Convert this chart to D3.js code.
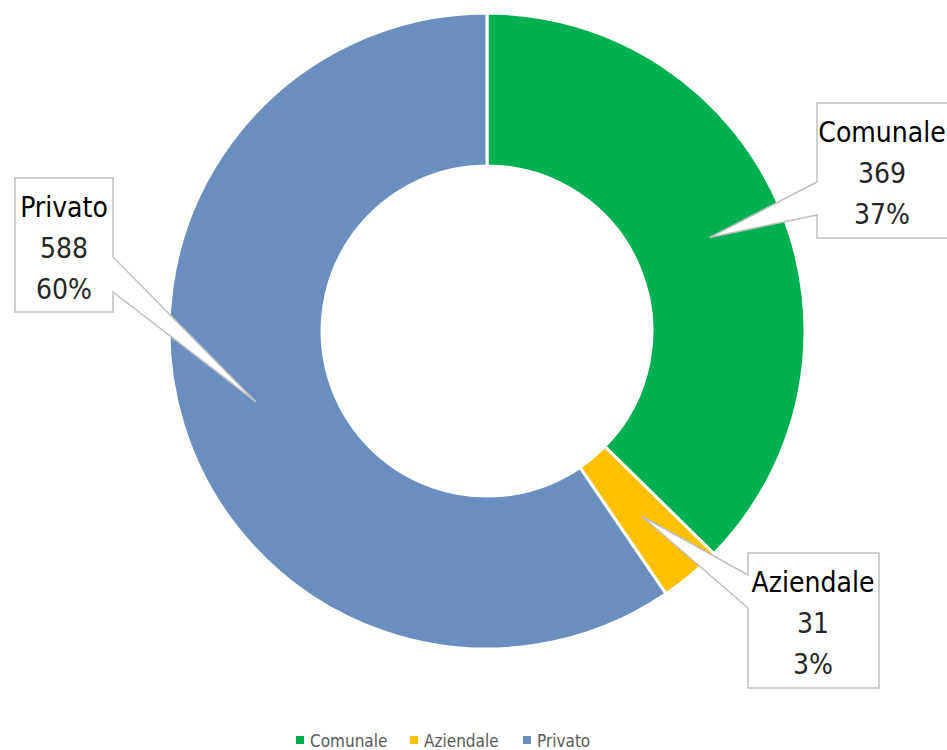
<!DOCTYPE html>
<html>
<head>
<meta charset="utf-8">
<script src="https://cdn.jsdelivr.net/npm/d3@7"></script>
<style>
  html, body { margin: 0; padding: 0; background: #fff; }
  svg { display: block; }
  text { font-family: "DejaVu Sans Condensed", "DejaVu Sans", sans-serif; font-stretch: condensed; }
</style>
</head>
<body>
<svg id="chart" width="947" height="750"></svg>
<script>
const categories = ["Comunale", "Aziendale", "Privato"];
const values = [369, 31, 588];
const colors = ["#00b050", "#ffc000", "#6a8ebf"];

// callout boxes: x, y, w, h, side of the pointer, pointer base offsets
const callouts = [
  { x: 817, y: 103, w: 132, h: 135, side: "left", b0: 79, b1: 112 },
  { x: 748, y: 553, w: 131, h: 135, side: "left", b0: 22, b1: 55 },
  { x: 15, y: 178, w: 98, h: 134, side: "right", b0: 79, b1: 114 }
];

const svg = d3.select("#chart");
const cx = 487, cy = 331;
const outerR = 318, innerR = 165;
const total = d3.sum(values);
const pctFmt = d3.format(".0%");

const data = categories.map((c, i) => ({ name: c, value: values[i], color: colors[i] }));

const pie = d3.pie().value(d => d.value).sort(null);
const arc = d3.arc().innerRadius(innerR).outerRadius(outerR);
const arcs = pie(data);

const g = svg.append("g").attr("transform", `translate(${cx},${cy})`);

g.selectAll("path.slice")
  .data(arcs)
  .enter()
  .append("path")
  .attr("class", "slice")
  .attr("d", arc)
  .attr("fill", d => d.data.color)
  .attr("stroke", "#fff")
  .attr("stroke-width", 3)
  .attr("stroke-linejoin", "round");

// callouts
arcs.forEach((a, i) => {
  const c = callouts[i];
  const [tx, ty] = arc.centroid(a);
  const tipX = cx + tx, tipY = cy + ty;
  let p;
  if (c.side === "left") {
    p = `M${c.x},${c.y} L${c.x + c.w},${c.y} L${c.x + c.w},${c.y + c.h} L${c.x},${c.y + c.h}
         L${c.x},${c.y + c.b1} L${tipX},${tipY} L${c.x},${c.y + c.b0} Z`;
  } else {
    const rx = c.x + c.w;
    p = `M${c.x},${c.y} L${rx},${c.y} L${rx},${c.y + c.b0} L${tipX},${tipY} L${rx},${c.y + c.b1}
         L${rx},${c.y + c.h} L${c.x},${c.y + c.h} Z`;
  }
  svg.append("path")
    .attr("d", p)
    .attr("fill", "#fff")
    .attr("stroke", "#bfbfbf")
    .attr("stroke-width", 1.5);

  const mx = c.x + (c.side === "left" ? 65 : c.w / 2);
  const lines = [a.data.name, String(a.data.value), pctFmt(a.data.value / total)];
  lines.forEach((t, k) => {
    svg.append("text")
      .attr("x", mx)
      .attr("y", c.y + 39 + k * 41)
      .attr("text-anchor", "middle")
      .attr("font-size", 28)
      .attr("fill", k === 0 ? "#000" : "#262626")
      .text(t);
  });
});

// legend
const legendX = [296, 410, 523];
const legend = svg.append("g");
data.forEach((d, i) => {
  legend.append("rect")
    .attr("x", legendX[i])
    .attr("y", 736)
    .attr("width", 8)
    .attr("height", 8)
    .attr("fill", d.color);
  legend.append("text")
    .attr("x", legendX[i] + 14)
    .attr("y", 747)
    .attr("font-size", 17)
    .attr("fill", "#595959")
    .text(d.name);
});
</script>
</body>
</html>
